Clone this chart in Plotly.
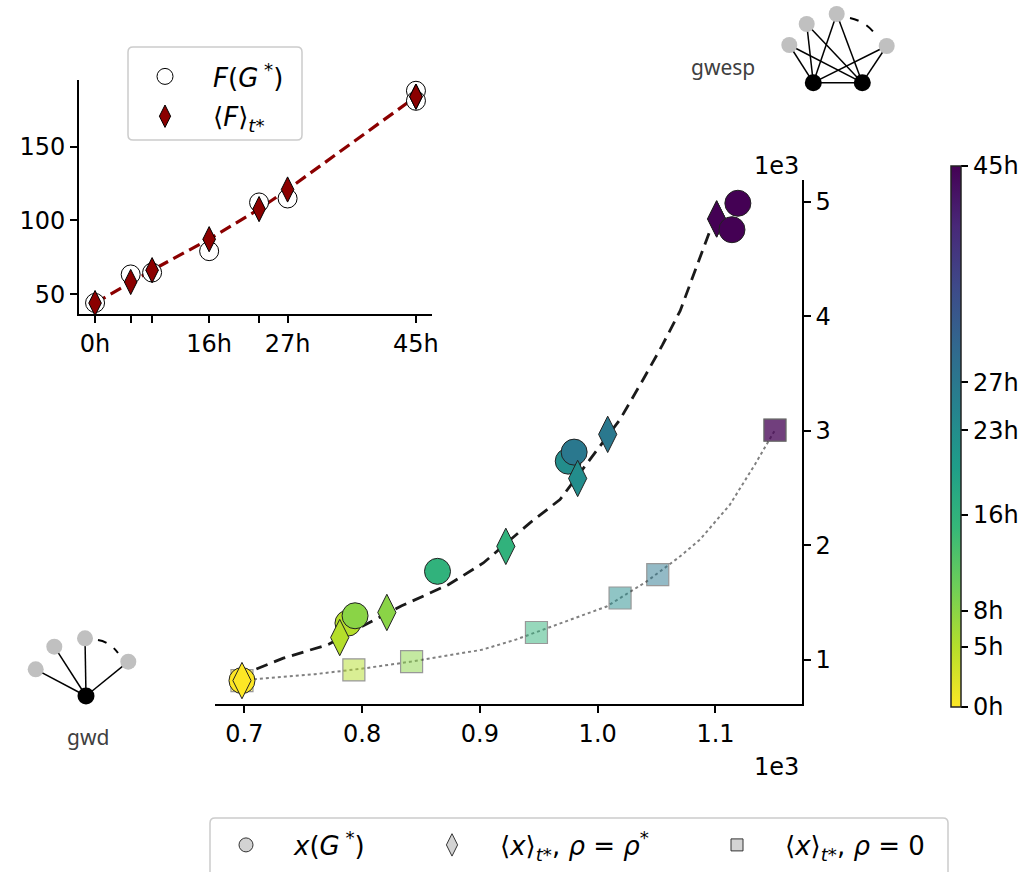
import plotly.graph_objects as go

W, H = 1036, 872

# ---------------- data ----------------
hours = [0, 5, 8, 16, 23, 27, 45, 45]
hour_ticks = [0, 5, 8, 16, 23, 27, 45]
hour_tick_labels = ["0h", "5h", "8h", "16h", "23h", "27h", "45h"]
inset_major_ticks = [0, 16, 27, 45]
inset_major_labels = ["0h", "16h", "27h", "45h"]
inset_minor_ticks = [5, 8, 23]

# inset: objective value F
F_G = [44.1, 63.4, 64.7, 79.2, 112.2, 114.9, 187.9, 181.1]
F_mean = [44.0, 58.3, 66.3, 87.3, 107.7, 121.0, 183.9, 183.9]

# main panel: (gwd, gwesp) statistics, in units of 1e3
x_G = [0.698, 0.788, 0.794, 0.864, 0.975, 0.980, 1.119, 1.114]
y_G = [0.819, 1.321, 1.385, 1.773, 2.735, 2.814, 4.987, 4.756]
x_rho = [0.698, 0.781, 0.821, 0.922, 0.983, 1.0085, 1.101, 1.101]
y_rho = [0.819, 1.195, 1.414, 1.991, 2.584, 2.969, 4.850, 4.850]
x_zero = [0.698, 0.793, 0.842, 0.948, 1.019, 1.051, 1.1505, 1.1505]
y_zero = [0.819, 0.9125, 0.985, 1.239, 1.540, 1.744, 3.006, 3.006]

# trend curves
curve_rho_x = [0.698, 0.7048, 0.7331, 0.7713, 0.7997, 0.8336, 0.8732, 0.9029,
               0.9425, 0.968, 0.9935, 1.019, 1.0387, 1.055, 1.070, 1.0953, 1.101]
curve_rho_y = [0.819, 0.898, 1.015, 1.134, 1.291, 1.472, 1.656, 1.846,
               2.196, 2.400, 2.750, 3.100, 3.450, 3.75, 4.047, 4.747, 4.850]
curve_zero_x = [0.698, 0.7119, 0.760, 0.8025, 0.8418, 0.9015, 0.930, 0.9567,
                1.0076, 1.0416, 1.070, 1.0868, 1.1123, 1.1335, 1.1505]
curve_zero_y = [0.819, 0.834, 0.875, 0.927, 0.985, 1.0875, 1.175, 1.277,
                1.466, 1.685, 1.904, 2.05, 2.356, 2.706, 3.006]

main_x_ticks = [0.7, 0.8, 0.9, 1.0, 1.1]
main_x_labels = ["0.7", "0.8", "0.9", "1.0", "1.1"]
main_y_ticks = [1, 2, 3, 4, 5]
main_y_labels = ["1", "2", "3", "4", "5"]

FONT = "DejaVu Sans"
FS = 24
LFS = 26


def px(x):
    return x / W


def py(y):
    return 1 - y / H


fig = go.Figure()

cmarker = dict(colorscale="Viridis", reversescale=True, cmin=0, cmax=45)

# ---------- main panel ----------
fig.add_trace(go.Scatter(x=curve_zero_x, y=curve_zero_y, mode="lines",
                         line=dict(color="#808080", width=2, dash="dot"),
                         showlegend=False, xaxis="x", yaxis="y"))
fig.add_trace(go.Scatter(x=curve_rho_x, y=curve_rho_y, mode="lines",
                         line=dict(color="#1a1a1a", width=2.8, dash="12px,7px"),
                         showlegend=False, xaxis="x", yaxis="y"))
fig.add_trace(go.Scatter(x=x_zero, y=y_zero, mode="markers", showlegend=False,
                         marker=dict(symbol="square", size=22, color=hours, opacity=0.5,
                                     line=dict(color="#333333", width=1.2), **cmarker),
                         xaxis="x", yaxis="y"))
fig.add_trace(go.Scatter(x=x_G[:7], y=y_G[:7], mode="markers", showlegend=False,
                         marker=dict(symbol="circle", size=26, color=hours[:7],
                                     line=dict(color="#222222", width=1), **cmarker,
                                     showscale=True,
                                     colorbar=dict(x=px(951), xanchor="left", xpad=0,
                                                   y=py(436.5), yanchor="middle", ypad=0,
                                                   len=541, lenmode="pixels",
                                                   thickness=10, thicknessmode="pixels",
                                                   outlinewidth=1.5, outlinecolor="#222222",
                                                   tickvals=hour_ticks, ticktext=hour_tick_labels,
                                                   ticks="outside", ticklen=7, tickwidth=1.5,
                                                   tickcolor="black",
                                                   tickfont=dict(family=FONT, size=FS, color="black"))),
                         xaxis="x", yaxis="y"))
fig.add_trace(go.Scatter(x=x_rho, y=y_rho, mode="markers", showlegend=False,
                         marker=dict(symbol="diamond-tall", size=26, color=hours,
                                     line=dict(color="#222222", width=1), **cmarker),
                         xaxis="x", yaxis="y"))
fig.add_trace(go.Scatter(x=x_G[7:], y=y_G[7:], mode="markers", showlegend=False,
                         marker=dict(symbol="circle", size=26, color=hours[7:],
                                     line=dict(color="#222222", width=1), **cmarker),
                         xaxis="x", yaxis="y"))

# bottom legend entries (grey symbols)
leg_labels = ["<i>x</i>(<i>G</i><sup> *</sup>)",
              "⟨<i>x</i>⟩<sub><i>t</i>*</sub>, <i>ρ</i> = <i>ρ</i><sup>*</sup>",
              "⟨<i>x</i>⟩<sub><i>t</i>*</sub>, <i>ρ</i> = 0"]
leg_symbols = ["circle", "diamond-tall", "square"]
leg_sizes = [14, 16, 12]
leg_names = ["legend", "legend3", "legend4"]
for lab, sym, sz, ln in zip(leg_labels, leg_symbols, leg_sizes, leg_names):
    fig.add_trace(go.Scatter(x=[None], y=[None], mode="markers", name=lab, legend=ln,
                             marker=dict(symbol=sym, size=sz, color="#d3d3d3",
                                         line=dict(color="#333333", width=1)),
                             xaxis="x", yaxis="y"))

# ---------- inset ----------
fig.add_trace(go.Scatter(x=hours, y=F_mean, mode="lines", showlegend=False,
                         line=dict(color="#8b0000", width=3.2, dash="12px,6px"),
                         xaxis="x2", yaxis="y2"))
fig.add_trace(go.Scatter(x=hours, y=F_G, mode="markers", legend="legend2", legendgroup="a",
                         name="<i>F</i>(<i>G</i><sup> *</sup>)",
                         marker=dict(symbol="circle", size=19, color="white",
                                     line=dict(color="black", width=1)),
                         xaxis="x2", yaxis="y2"))
fig.add_trace(go.Scatter(x=hours, y=F_mean, mode="markers", legend="legend2", legendgroup="b",
                         name="⟨<i>F</i>⟩<sub><i>t</i>*</sub>",
                         marker=dict(symbol="diamond-tall", size=18, color="#8b0000",
                                     line=dict(color="black", width=1)),
                         xaxis="x2", yaxis="y2"))

# ---------- network icons & frames ----------
shapes = []


def node(cx, cy, r, color):
    shapes.append(dict(type="circle", xref="paper", yref="paper",
                       x0=px(cx - r), x1=px(cx + r), y0=py(cy + r), y1=py(cy - r),
                       fillcolor=color, line=dict(width=0)))


def edge(x0, y0, x1, y1):
    shapes.append(dict(type="line", xref="paper", yref="paper",
                       x0=px(x0), y0=py(y0), x1=px(x1), y1=py(y1),
                       line=dict(color="black", width=1.5)))


def dashed_arc(x0, y0, cx, cy, x1, y1):
    shapes.append(dict(type="path", xref="paper", yref="paper",
                       path=f"M{px(x0)},{py(y0)} Q{px(cx)},{py(cy)} {px(x1)},{py(y1)}",
                       line=dict(color="black", width=2, dash="dash")))


def rounded_rect(x0, y0, x1, y1, r, fill="rgba(0,0,0,0)"):
    p = (f"M{px(x0 + r)},{py(y0)} L{px(x1 - r)},{py(y0)} Q{px(x1)},{py(y0)} {px(x1)},{py(y0 + r)} "
         f"L{px(x1)},{py(y1 - r)} Q{px(x1)},{py(y1)} {px(x1 - r)},{py(y1)} "
         f"L{px(x0 + r)},{py(y1)} Q{px(x0)},{py(y1)} {px(x0)},{py(y1 - r)} "
         f"L{px(x0)},{py(y0 + r)} Q{px(x0)},{py(y0)} {px(x0 + r)},{py(y0)} Z")
    shapes.append(dict(type="path", xref="paper", yref="paper", path=p,
                       line=dict(color="#cccccc", width=1.5), fillcolor=fill))


GREY = "#c0c0c0"
# gwd
gwd_center = (86, 696)
gwd_leaves = [(35.7, 669.3), (54.3, 646.7), (85, 638.3), (128.3, 661.7)]
for lx, ly in gwd_leaves:
    edge(gwd_center[0], gwd_center[1], lx, ly)
dashed_arc(98, 640, 110, 642, 118, 653)
for lx, ly in gwd_leaves:
    node(lx, ly, 8, GREY)
node(gwd_center[0], gwd_center[1], 8.5, "black")

# gwesp
gw_black = [(813.3, 82.7), (862.3, 82.7)]
gw_leaves = [(789.3, 45), (806.7, 24), (836.7, 14), (886.7, 46)]
edge(gw_black[0][0], gw_black[0][1], gw_black[1][0], gw_black[1][1])
for lx, ly in gw_leaves:
    for bx, by in gw_black:
        edge(bx, by, lx, ly)
dashed_arc(850, 18, 868, 22, 877, 37)
for lx, ly in gw_leaves:
    node(lx, ly, 8, GREY)
for bx, by in gw_black:
    node(bx, by, 8.5, "black")

# legend frames
rounded_rect(128, 47, 302, 140, 5, fill="white")
rounded_rect(210, 818, 948, 900, 5)

annotations = [
    dict(text="gwd", x=px(88), y=py(737), xref="paper", yref="paper", showarrow=False,
         xanchor="center", yanchor="middle",
         font=dict(family="Noto Sans", size=21, color="#404040")),
    dict(text="gwesp", x=px(723), y=py(67), xref="paper", yref="paper", showarrow=False,
         xanchor="center", yanchor="middle",
         font=dict(family="Noto Sans", size=21, color="#404040")),
    dict(text="1e3", x=px(801), y=py(166), xref="paper", yref="paper", showarrow=False,
         xanchor="right", yanchor="middle", font=dict(family=FONT, size=FS, color="black")),
    dict(text="1e3", x=px(801), y=py(767), xref="paper", yref="paper", showarrow=False,
         xanchor="right", yanchor="middle", font=dict(family=FONT, size=FS, color="black")),
]

axis_common = dict(showline=True, linecolor="black", linewidth=2, ticks="outside",
                   ticklen=7, tickwidth=1.5, tickcolor="black", showgrid=False,
                   zeroline=False, tickfont=dict(family=FONT, size=FS, color="black"))

leg_common = dict(bgcolor="rgba(0,0,0,0)", borderwidth=0, xanchor="left", yanchor="middle",
                  itemwidth=86, font=dict(family=FONT, size=LFS, color="black"))

fig.update_layout(
    width=W, height=H,
    margin=dict(l=0, r=0, t=0, b=0, autoexpand=False),
    paper_bgcolor="white", plot_bgcolor="white",
    xaxis=dict(domain=[px(215), px(801.7)], range=[0.6751, 1.1732],
               tickvals=main_x_ticks, ticktext=main_x_labels, anchor="y", **axis_common),
    yaxis=dict(domain=[py(704.3), py(180)], range=[0.612, 5.19], side="right",
               tickvals=main_y_ticks, ticktext=main_y_labels, anchor="x", **axis_common),
    xaxis2=dict(domain=[px(79), px(432)], range=[-2.25, 47.25],
                tickvals=inset_major_ticks, ticktext=inset_major_labels, anchor="y2",
                minor=dict(tickvals=inset_minor_ticks, ticks="outside", ticklen=7,
                           tickwidth=1.5, tickcolor="black", showgrid=False),
                **axis_common),
    yaxis2=dict(domain=[py(314), py(80)], range=[36.6, 195.2],
                tickvals=[50, 100, 150], ticktext=["50", "100", "150"], anchor="x2", **axis_common),
    legend=dict(x=px(198), y=py(845), **leg_common),
    legend3=dict(x=px(404), y=py(845), **leg_common),
    legend4=dict(x=px(689), y=py(845), **leg_common),
    legend2=dict(x=px(117), y=py(53), xanchor="left", yanchor="top", bgcolor="rgba(0,0,0,0)",
                 borderwidth=0, itemwidth=86, tracegroupgap=3,
                 font=dict(family=FONT, size=LFS, color="black")),
    shapes=shapes,
    annotations=annotations,
    showlegend=True,
)

fig.write_html("out.html", config={"displayModeBar": False},
               post_script="document.body.style.margin='0px';")
